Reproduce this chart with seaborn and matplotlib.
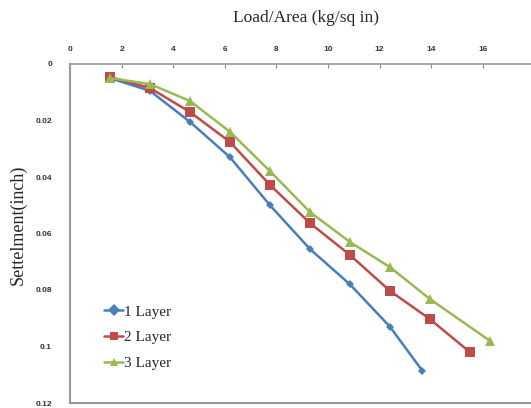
import pandas as pd
import seaborn as sns
import matplotlib.pyplot as plt

# data
load_1 = [1.55, 3.1, 4.65, 6.2, 7.75, 9.3, 10.85, 12.4, 13.65]
settle_1 = [0.005, 0.0095, 0.0205, 0.033, 0.050, 0.0655, 0.078, 0.093, 0.1085]

load_2 = [1.55, 3.1, 4.65, 6.2, 7.75, 9.3, 10.85, 12.4, 13.95, 15.5]
settle_2 = [0.0046, 0.0085, 0.017, 0.0276, 0.0428, 0.0563, 0.0676, 0.0803, 0.0903, 0.102]

load_3 = [1.55, 3.1, 4.65, 6.2, 7.75, 9.3, 10.85, 12.4, 13.95, 16.28]
settle_3 = [0.005, 0.0071, 0.0131, 0.024, 0.0379, 0.0524, 0.063, 0.0719, 0.0832, 0.098]

layers = ["1 Layer", "2 Layer", "3 Layer"]
x_ticks = [0, 2, 4, 6, 8, 10, 12, 14, 16]
y_ticks = [0, 0.02, 0.04, 0.06, 0.08, 0.1, 0.12]

df = pd.concat([
    pd.DataFrame({"load": load_1, "settle": settle_1, "layer": layers[0]}),
    pd.DataFrame({"load": load_2, "settle": settle_2, "layer": layers[1]}),
    pd.DataFrame({"load": load_3, "settle": settle_3, "layer": layers[2]}),
])

sns.set_style("white")
colors = {"1 Layer": "#4A7EBB", "2 Layer": "#BE4B48", "3 Layer": "#98B954"}
markers = {"1 Layer": "D", "2 Layer": "s", "3 Layer": "^"}

fig = plt.figure(figsize=(5.31, 4.08), dpi=100)
ax = fig.add_axes([70 / 531, 5 / 408, 1 - 70 / 531, (403 - 64) / 408])

sns.lineplot(data=df, x="load", y="settle", hue="layer", style="layer",
             palette=colors, markers=markers, dashes=False, sort=False,
             linewidth=1.8, markersize=6, markeredgewidth=0, ax=ax)

# marker sizes differ a bit in the original
for line, ms in zip(ax.lines, [4.5, 6.5, 6.5]):
    line.set_markersize(ms)

ax.set_xlim(0, (531 - 70) / 25.8)
ax.set_ylim(0.12, 0)
ax.xaxis.tick_top()
ax.set_xticks(x_ticks)
ax.set_yticks(y_ticks)
ax.set_yticklabels(["0", "0.02", "0.04", "0.06", "0.08", "0.1", "0.12"])
ax.tick_params(axis="x", direction="in", length=3, color="#888888", pad=8)
ax.tick_params(axis="y", direction="out", length=3, color="#888888", pad=10)
for lab in ax.get_xticklabels() + ax.get_yticklabels():
    lab.set_fontsize(6)
    lab.set_fontweight("bold")
    lab.set_color("#333333")
    lab.set_family("Liberation Sans")

for s in ["left", "top", "bottom"]:
    ax.spines[s].set_color("#999999")
    ax.spines[s].set_linewidth(1.5)
ax.spines["top"].set_linewidth(1.2)
ax.spines["right"].set_visible(False)
ax.set_xlabel("")
ax.set_ylabel("")

fig.text(306 / 531, 1 - 18 / 408, "Load/Area (kg/sq in)", ha="center", va="center",
         family="Liberation Serif", fontsize=12.5)
fig.text(18 / 531, 1 - 225 / 408, "Settelment(inch)", ha="center", va="center",
         rotation=90, family="Liberation Serif", fontsize=13)

leg = ax.legend(loc="upper left", bbox_to_anchor=(0.045, 0.33), frameon=False,
                prop={"family": "Liberation Serif", "size": 11},
                handlelength=1.2, handletextpad=0.1, labelspacing=0.8)

fig.savefig("out.png", dpi=100)
